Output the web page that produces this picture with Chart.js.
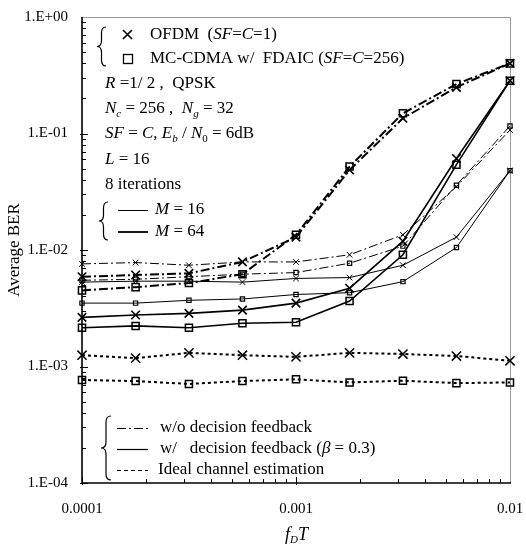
<!DOCTYPE html>
<html><head><meta charset="utf-8">
<script src="https://cdn.jsdelivr.net/npm/chart.js@4/dist/chart.umd.min.js"></script>
<style>html,body{margin:0;padding:0;background:#fff;}#wrap{width:526px;height:547px;}</style>
</head><body><div id="wrap"><canvas id="c" width="526" height="547"></canvas></div>
<script>
// ---- data ----
const fdT = [0.0001, 0.000178, 0.000316, 0.000562, 0.001, 0.00178, 0.00316, 0.00562, 0.01];
const ofdmM16NoDF = [7.6e-3, 7.8e-3, 7.4e-3, 7.9e-3, 7.9e-3, 9.1e-3, 0.0135, 0.035, 0.107];
const mcM16NoDF   = [5.5e-3, 5.6e-3, 5.9e-3, 6.2e-3, 6.4e-3, 7.7e-3, 0.0108, 0.036, 0.116];
const ofdmM64NoDF = [5.9e-3, 6.1e-3, 6.3e-3, 7.9e-3, 0.0129, 0.0486, 0.135, 0.249, 0.40];
const mcM64NoDF   = [4.5e-3, 4.8e-3, 5.2e-3, 6.2e-3, 0.0135, 0.052, 0.149, 0.266, 0.40];
const ofdmM16DF   = [5.3e-3, 5.4e-3, 5.4e-3, 5.3e-3, 5.7e-3, 5.8e-3, 7.4e-3, 0.0129, 0.048];
const mcM16DF     = [3.5e-3, 3.5e-3, 3.7e-3, 3.8e-3, 4.15e-3, 4.3e-3, 5.35e-3, 0.0105, 0.048];
const ofdmM64DF   = [2.64e-3, 2.77e-3, 2.86e-3, 3.05e-3, 3.5e-3, 4.7e-3, 0.0119, 0.061, 0.284];
const mcM64DF     = [2.15e-3, 2.23e-3, 2.15e-3, 2.35e-3, 2.4e-3, 3.65e-3, 0.0091, 0.054, 0.284];
const ofdmIdeal   = [1.25e-3, 1.18e-3, 1.31e-3, 1.25e-3, 1.21e-3, 1.31e-3, 1.28e-3, 1.23e-3, 1.12e-3];
const mcIdeal     = [7.66e-4, 7.5e-4, 7.08e-4, 7.5e-4, 7.76e-4, 7.3e-4, 7.55e-4, 7.2e-4, 7.3e-4];
const yTicks = [1e-4, 1e-3, 1e-2, 1e-1, 1];
const yTickLabels = ['1.E-04', '1.E-03', '1.E-02', '1.E-01', '1.E+00'];
const xTicks = [0.0001, 0.001, 0.01];
const xTickLabels = ['0.0001', '0.001', '0.01'];

const SERIF = '"Liberation Serif", "Times New Roman", serif';
const DASHDOT = [9, 3, 2, 3];

function ds(label, ys, o) {
  return Object.assign({
    label, data: fdT.map((x, i) => ({ x, y: ys[i] })),
    borderColor: '#000', backgroundColor: 'rgba(0,0,0,0)',
    pointBorderColor: '#000', pointBackgroundColor: 'rgba(0,0,0,0)',
    tension: 0, clip: false, fill: false
  }, o);
}
const X64 = { pointStyle: 'crossRot', pointRadius: 6, pointBorderWidth: 1.6 };
const X16 = { pointStyle: 'crossRot', pointRadius: 4, pointBorderWidth: 1 };
const S64 = { pointStyle: 'rect', pointRadius: 5, pointBorderWidth: 1.5 };
const S16 = { pointStyle: 'rect', pointRadius: 3, pointBorderWidth: 1.2 };

const datasets = [
  ds('OFDM M=16 w/o DF', ofdmM16NoDF, Object.assign({ borderWidth: 1, borderDash: DASHDOT }, X16)),
  ds('MC-CDMA M=16 w/o DF', mcM16NoDF, Object.assign({ borderWidth: 1, borderDash: DASHDOT }, S16)),
  ds('OFDM M=64 w/o DF', ofdmM64NoDF, Object.assign({ borderWidth: 2, borderDash: DASHDOT }, X64)),
  ds('MC-CDMA M=64 w/o DF', mcM64NoDF, Object.assign({ borderWidth: 2, borderDash: DASHDOT }, S64)),
  ds('OFDM M=16 w/ DF', ofdmM16DF, Object.assign({ borderWidth: 1 }, X16)),
  ds('MC-CDMA M=16 w/ DF', mcM16DF, Object.assign({ borderWidth: 1 }, S16)),
  ds('OFDM M=64 w/ DF', ofdmM64DF, Object.assign({ borderWidth: 1.6 }, X64)),
  ds('MC-CDMA M=64 w/ DF', mcM64DF, Object.assign({ borderWidth: 1.6 }, S64)),
  ds('OFDM ideal', ofdmIdeal, Object.assign({ borderWidth: 2, borderDash: [3, 3] }, X64, { pointRadius: 6.5, pointBorderWidth: 1.5 })),
  ds('MC-CDMA ideal', mcIdeal, Object.assign({ borderWidth: 2, borderDash: [3, 3] }, S64))
];

function brace(ctx, x, y0, y1, w) {
  const mid = (y0 + y1) / 2, r = Math.min(6, (y1 - y0) / 6);
  const xm = x + w / 2;
  ctx.beginPath();
  ctx.moveTo(x + w, y0);
  ctx.quadraticCurveTo(xm, y0, xm, y0 + r);
  ctx.lineTo(xm, mid - r);
  ctx.quadraticCurveTo(xm, mid, x, mid);
  ctx.quadraticCurveTo(xm, mid, xm, mid + r);
  ctx.lineTo(xm, y1 - r);
  ctx.quadraticCurveTo(xm, y1, x + w, y1);
  ctx.stroke();
}
function rich(ctx, x, y, segs, size) {
  ctx.textAlign = 'left'; ctx.textBaseline = 'middle';
  for (const s of segs) {
    const t = typeof s === 'string' ? s : s[0];
    const f = typeof s === 'string' ? '' : s[1];
    const sub = f.includes('s');
    const sz = sub ? Math.round(size * 0.62) : size;
    ctx.font = (f.includes('i') ? 'italic ' : '') + sz + 'px ' + SERIF;
    ctx.fillText(t, x, sub ? y + size * 0.3 : y);
    x += ctx.measureText(t).width;
  }
}

const deco = {
  id: 'deco',
  beforeDatasetsDraw(chart) {
    const ctx = chart.ctx, a = chart.chartArea;
    const xs = chart.scales.x, ys = chart.scales.y;
    ctx.save();
    ctx.strokeStyle = '#9a9a9a'; ctx.lineWidth = 1;
    ctx.beginPath(); ctx.moveTo(a.left, a.top + 0.5); ctx.lineTo(a.right + 0.5, a.top + 0.5); ctx.lineTo(a.right + 0.5, a.bottom); ctx.stroke();
    ctx.strokeStyle = '#000'; ctx.lineWidth = 1;
    ctx.beginPath();
    for (let e = -4; e < 0; e++) {
      for (let m = 1; m < 10; m++) {
        const yy = Math.round(ys.getPixelForValue(m * Math.pow(10, e))) + 0.5;
        ctx.moveTo(m === 1 ? a.left - 2 : a.left, yy); ctx.lineTo(a.left + (m === 1 ? 6 : 4), yy);
      }
    }
    for (let e = -4; e < -2; e++) {
      for (let m = 1; m < 10; m++) {
        const xx = Math.round(xs.getPixelForValue(m * Math.pow(10, e))) + 0.5;
        ctx.moveTo(xx, a.bottom + (m === 1 ? 2 : 0)); ctx.lineTo(xx, a.bottom - (m === 1 ? 6 : 4));
      }
    }
    ctx.stroke();
    ctx.lineWidth = 1.6;
    ctx.beginPath(); ctx.moveTo(a.left, a.top); ctx.lineTo(a.left, a.bottom); ctx.lineTo(a.right + 1, a.bottom); ctx.stroke();
    ctx.restore();
  },
  afterDraw(chart) {
    const ctx = chart.ctx;
    ctx.save();
    ctx.fillStyle = '#000'; ctx.strokeStyle = '#000';
    const FS = 17;
    ctx.lineWidth = 1.2;
    brace(ctx, 97, 27, 66, 9);
    ctx.lineWidth = 1.6;
    ctx.beginPath(); ctx.moveTo(123, 30); ctx.lineTo(132, 39); ctx.moveTo(132, 30); ctx.lineTo(123, 39); ctx.stroke();
    ctx.lineWidth = 1.3;
    ctx.strokeRect(123.5, 54.5, 9, 9);
    rich(ctx, 150, 35, ['OFDM  (', ['SF', 'i'], '=', ['C', 'i'], '=1)'], FS);
    rich(ctx, 150, 59, ['MC-CDMA w/  FDAIC (', ['SF', 'i'], '=', ['C', 'i'], '=256)'], FS);
    rich(ctx, 105, 84, [['R', 'i'], ' =1/ 2 ,  QPSK'], FS);
    rich(ctx, 105, 109, [['N', 'i'], ['c', 'is'], ' = 256 ,  ', ['N', 'i'], ['g', 'is'], ' = 32'], FS);
    rich(ctx, 105, 134, [['SF', 'i'], ' = ', ['C', 'i'], ', ', ['E', 'i'], ['b', 'is'], ' / ', ['N', 'i'], ['0', 's'], ' = 6dB'], FS);
    rich(ctx, 105, 160, [['L', 'i'], ' = 16'], FS);
    rich(ctx, 105, 185, ['8 iterations'], FS);
    ctx.lineWidth = 1.2;
    brace(ctx, 99, 202, 240, 9);
    ctx.lineWidth = 1; ctx.beginPath(); ctx.moveTo(118, 210.5); ctx.lineTo(148, 210.5); ctx.stroke();
    ctx.lineWidth = 1.8; ctx.beginPath(); ctx.moveTo(118, 232); ctx.lineTo(148, 232); ctx.stroke();
    rich(ctx, 155, 210, [['M', 'i'], ' = 16'], FS);
    rich(ctx, 155, 232, [['M', 'i'], ' = 64'], FS);
    ctx.lineWidth = 1.2;
    brace(ctx, 101, 416, 480, 10);
    ctx.lineWidth = 1.2;
    ctx.setLineDash([9, 3, 2, 3]); ctx.beginPath(); ctx.moveTo(117, 428.5); ctx.lineTo(148, 428.5); ctx.stroke();
    ctx.setLineDash([]); ctx.beginPath(); ctx.moveTo(117, 449.5); ctx.lineTo(148, 449.5); ctx.stroke();
    ctx.setLineDash([4, 3]); ctx.beginPath(); ctx.moveTo(117, 470.5); ctx.lineTo(148, 470.5); ctx.stroke();
    ctx.setLineDash([]);
    rich(ctx, 160, 428, ['w/o decision feedback'], FS);
    rich(ctx, 160, 449, ['w/   decision feedback (', ['β', 'i'], ' = 0.3)'], FS);
    rich(ctx, 158, 470, ['Ideal channel estimation'], FS);
    rich(ctx, 285, 535, [['f', 'i'], ['D', 'is'], ['T', 'i']], 18);
    ctx.restore();
  }
};

new Chart(document.getElementById('c'), {
  type: 'line',
  data: { datasets },
  options: {
    responsive: false, animation: false, devicePixelRatio: 1,
    layout: { padding: { left: 0, right: 16, top: 17, bottom: 0 } },
    plugins: { legend: { display: false }, tooltip: { enabled: false } },
    scales: {
      x: {
        type: 'logarithmic', position: 'bottom', min: 1e-4, max: 1e-2,
        grid: { display: false }, border: { display: false },
        afterBuildTicks: s => { s.ticks = xTicks.map(v => ({ value: v })); },
        afterFit: s => { s.height = 64; s.paddingLeft = 0; s.paddingRight = 0; },
        ticks: { color: '#000', font: { family: SERIF, size: 15 }, padding: 9, maxRotation: 0, autoSkip: false,
          callback: v => xTickLabels[xTicks.indexOf(v)] }
      },
      y: {
        type: 'logarithmic', position: 'left', min: 1e-4, max: 1,
        grid: { display: false }, border: { display: false },
        afterBuildTicks: s => { s.ticks = yTicks.map(v => ({ value: v })); },
        afterFit: s => { s.width = 82; s.paddingTop = 0; s.paddingBottom = 0; },
        title: { display: true, text: 'Average BER', color: '#000', font: { family: SERIF, size: 17 }, padding: { top: 4, bottom: 0 } },
        ticks: { color: '#000', font: { family: SERIF, size: 15 }, padding: 6, autoSkip: false,
          callback: v => yTickLabels[yTicks.indexOf(v)] }
      }
    }
  },
  plugins: [deco]
});
</script></body></html>
